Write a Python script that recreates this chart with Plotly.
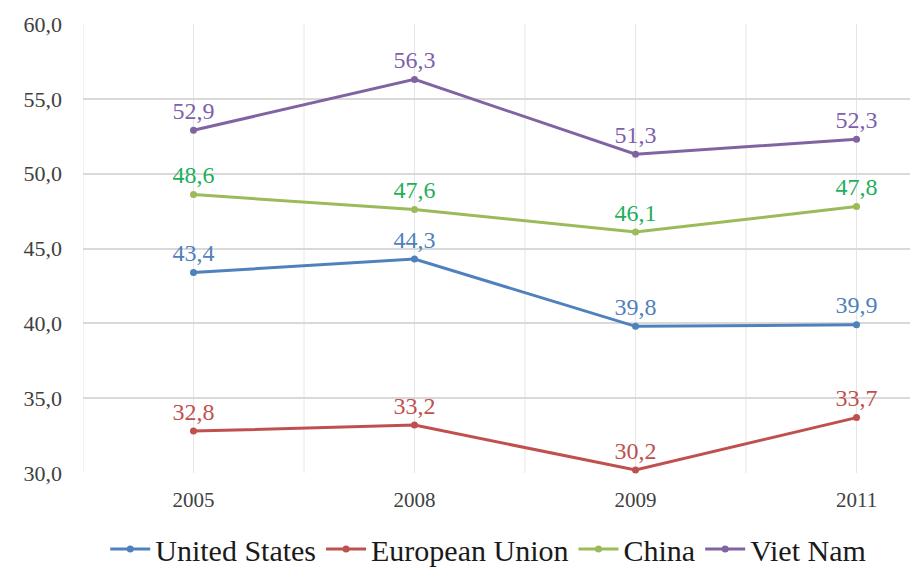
import plotly.graph_objects as go

years = ["2005", "2008", "2009", "2011"]
united_states = [43.4, 44.3, 39.8, 39.9]
european_union = [32.8, 33.2, 30.2, 33.7]
china = [48.6, 47.6, 46.1, 47.8]
viet_nam = [52.9, 56.3, 51.3, 52.3]

y_ticks = [30, 35, 40, 45, 50, 55, 60]

series = [
    ("United States", united_states, "#4F81BD", "#4F81BD"),
    ("European Union", european_union, "#C0504D", "#C0504D"),
    ("China", china, "#9BBB59", "#1FAF5A"),
    ("Viet Nam", viet_nam, "#8064A2", "#7E5FAE"),
]

FONT = "Liberation Serif"

fig = go.Figure()
for name, vals, col, tcol in series:
    fig.add_trace(go.Scatter(
        x=years, y=vals, name=name,
        mode="lines+markers+text",
        line=dict(color=col, width=3),
        marker=dict(color=col, size=7),
        texttemplate="%{y:.1f}",
        textposition="top center",
        textfont=dict(family=FONT, size=24, color=tcol),
        cliponaxis=False,
    ))

# vertical gridlines at category boundaries
for i in range(len(years)):
    fig.add_shape(type="line", xref="x", yref="paper",
                  x0=i - 0.5, x1=i - 0.5, y0=0, y1=1,
                  line=dict(color="#E6E6E6", width=1), layer="below")

fig.update_layout(
    width=910, height=569,
    margin=dict(l=83, r=0, t=24, b=96, autoexpand=False),
    paper_bgcolor="white", plot_bgcolor="white",
    separators=",.",
    font=dict(family=FONT, color="#404040"),
    showlegend=True,
    legend=dict(orientation="h", x=0.49, xanchor="center",
                yref="container", y=0.035, yanchor="middle",
                font=dict(family=FONT, size=30, color="#1a1a1a"),
                itemwidth=40, tracegroupgap=0),
)
fig.update_xaxes(
    type="category", range=[-0.5, 3.242],
    showgrid=True, gridcolor="#E6E6E6", gridwidth=1,
    showline=False, zeroline=False, ticks="",
    tickfont=dict(family=FONT, size=21, color="#404040"),
    ticklabelstandoff=12,
)
fig.update_yaxes(
    range=[30, 60], tickvals=y_ticks, tickformat=".1f",
    showgrid=True, gridcolor="#D9D9D9", gridwidth=1.5,
    zeroline=False, showline=False, ticks="",
    tickfont=dict(family=FONT, size=22, color="#404040"),
    ticklabelstandoff=20,
)

fig.write_html("out.html")
